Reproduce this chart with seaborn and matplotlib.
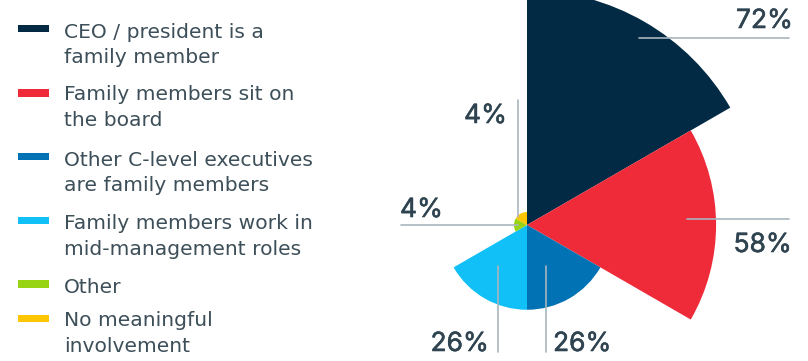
import matplotlib
matplotlib.use("Agg")
import matplotlib.pyplot as plt
import matplotlib.patheffects as pe
from matplotlib.patches import Rectangle
from matplotlib.lines import Line2D
import numpy as np
import pandas as pd
import seaborn as sns

# Share of family businesses by type of family involvement
categories = [
    "CEO / president is a\nfamily member",
    "Family members sit on\nthe board",
    "Other C-level executives\nare family members",
    "Family members work in\nmid-management roles",
    "Other",
    "No meaningful\ninvolvement",
]
values = [72, 58, 26, 26, 4, 4]
value_labels = ["72%", "58%", "26%", "26%", "4%", "4%"]
colors = ["#032a44", "#ef2b3a", "#0173b5", "#11c0f7", "#99d414", "#fdc600"]

sns.set_theme(style="white")
plt.rcParams["font.family"] = ["Inter", "DejaVu Sans"]

W, H = 808, 361
fig = plt.figure(figsize=(W / 100, H / 100), dpi=100)


def fig_xy(x, y):
    """Pixel position (from top-left) to figure fraction."""
    return x / W, 1 - y / H


# Rose chart: one 60-degree wedge per category, radius proportional to value
cx, cy = 527, 225
rmax = 80
px_per_unit = 3.26
half = rmax * px_per_unit
ax = fig.add_axes([(cx - half) / W, (H - cy - half) / H, 2 * half / W, 2 * half / H],
                  projection="polar")
ax.set_theta_zero_location("N")
ax.set_theta_direction(-1)

n = len(values)
step = 2 * np.pi / n
df = pd.DataFrame({
    "theta": np.arange(n) * step + step / 2,
    "value": values,
    "category": categories,
})
sns.barplot(data=df, x="theta", y="value", hue="category", hue_order=categories,
            palette=colors, native_scale=True, width=1, dodge=False, errorbar=None,
            legend=False, linewidth=0, saturation=1, ax=ax)
ax.set_ylim(0, rmax)
ax.axis("off")

# Leader lines and value labels
line_color = "#a9b5be"
text_color = "#2f4450"
fig.canvas.draw()


def polar_to_px(theta_deg, r):
    disp = ax.transData.transform((np.deg2rad(theta_deg), r))
    return disp[0], H - disp[1]


# (anchor angle, anchor radius, direction, line end, label x, label baseline, ha)
leaders = [
    (31, 67, "h", 789, 793, 28, "right"),
    (88, 49, "h", 789, 792, 252, "right"),
    (155, 14, "v", 352, 553, 351, "left"),
    (215, 15.4, "v", 352, 489, 351, "right"),
    (311, 3.8, "v", 100, 507, 123, "right"),
    (270, 2.8, "h", 401, 400, 217, "left"),
]
label_weight = [pe.withStroke(linewidth=0.4, foreground=text_color)]
for (ang, rad, direction, end, lx, ly, ha), label in zip(leaders, value_labels):
    x0, y0 = polar_to_px(ang, rad)
    if direction == "h":
        xs, ys = [x0, end], [y0, y0]
    else:
        xs, ys = [x0, x0], [y0, end]
    fx, fy = zip(*(fig_xy(x, y) for x, y in zip(xs, ys)))
    fig.add_artist(Line2D(fx, fy, color=line_color, lw=1.2, transform=fig.transFigure))
    tx, ty = fig_xy(lx, ly)
    fig.text(tx, ty, label, ha=ha, va="baseline", fontsize=19, color=text_color,
             path_effects=label_weight)

# Legend
legend_text = "#3d4f59"
swatch_centers = [28.7, 93, 156.5, 220.3, 284, 318.5]
first_baselines = [37.7, 100, 165.7, 229, 293, 326]
for cat, col, sc, base in zip(categories, colors, swatch_centers, first_baselines):
    x0, y0 = fig_xy(18, sc + 3.6)
    fig.add_artist(Rectangle((x0, y0), 31 / W, 7.2 / H, color=col, lw=0,
                             transform=fig.transFigure))
    for i, line in enumerate(cat.split("\n")):
        tx, ty = fig_xy(64, base + i * 25.6)
        fig.text(tx, ty, line, ha="left", va="baseline", fontsize=14.6,
                 family=["DejaVu Sans"], color=legend_text)

fig.savefig("out.png", dpi=100)
